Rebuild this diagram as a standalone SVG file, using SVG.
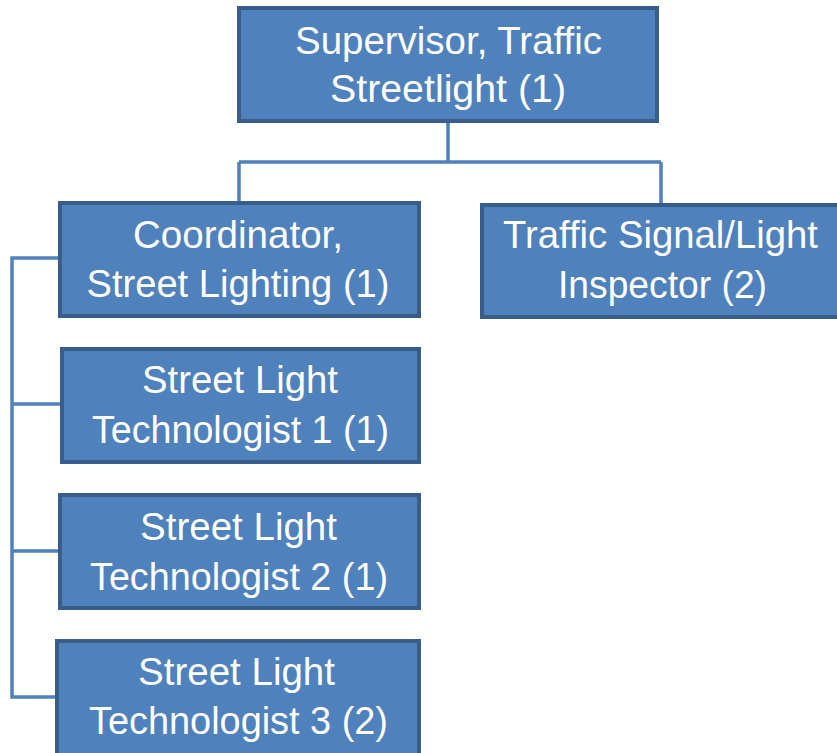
<svg xmlns="http://www.w3.org/2000/svg" width="837" height="753" viewBox="0 0 837 753">
<style>
.box{fill:#4F81BD;stroke:#385D8A;stroke-width:4}
.lbl{font-family:"Liberation Sans",Arial,sans-serif;font-size:39px;fill:#FFFFFF;text-anchor:middle}
.conn{fill:none;stroke:#4F81BD;stroke-width:3.5}
</style>
<rect width="837" height="753" fill="#FFFFFF"/>
<g id="connectors">
<path class="conn" d="M448,121 V162 M239,162 H661 M239,162 V203 M661,162 V205"/>
<path class="conn" d="M59,258 H12 V697 H57 M12,404 H62 M12,551 H60"/>
</g>
<g id="supervisor">
<rect class="box" x="239" y="8" width="418" height="113"/>
<text class="lbl" x="448.5" y="54" textLength="307" lengthAdjust="spacingAndGlyphs">Supervisor, Traffic</text>
<text class="lbl" x="448" y="102" textLength="236" lengthAdjust="spacingAndGlyphs">Streetlight (1)</text>
</g>
<g id="coordinator">
<rect class="box" x="60" y="203" width="359" height="113"/>
<text class="lbl" x="238" y="248" textLength="210" lengthAdjust="spacingAndGlyphs">Coordinator,</text>
<text class="lbl" x="238" y="297" textLength="303" lengthAdjust="spacingAndGlyphs">Street Lighting (1)</text>
</g>
<g id="inspector">
<rect class="box" x="482" y="205" width="360" height="112"/>
<text class="lbl" x="660.5" y="248" textLength="315" lengthAdjust="spacingAndGlyphs">Traffic Signal/Light</text>
<text class="lbl" x="662.5" y="298" textLength="209" lengthAdjust="spacingAndGlyphs">Inspector (2)</text>
</g>
<g id="tech1">
<rect class="box" x="62" y="349" width="357" height="113"/>
<text class="lbl" x="240" y="393" textLength="196" lengthAdjust="spacingAndGlyphs">Street Light</text>
<text class="lbl" x="240.5" y="443" textLength="297" lengthAdjust="spacingAndGlyphs">Technologist 1 (1)</text>
</g>
<g id="tech2">
<rect class="box" x="60" y="495" width="359" height="113"/>
<text class="lbl" x="238.5" y="540" textLength="197" lengthAdjust="spacingAndGlyphs">Street Light</text>
<text class="lbl" x="239" y="590" textLength="298" lengthAdjust="spacingAndGlyphs">Technologist 2 (1)</text>
</g>
<g id="tech3">
<rect class="box" x="57" y="641" width="362" height="120"/>
<text class="lbl" x="236.5" y="685" textLength="197" lengthAdjust="spacingAndGlyphs">Street Light</text>
<text class="lbl" x="238.5" y="734" textLength="299" lengthAdjust="spacingAndGlyphs">Technologist 3 (2)</text>
</g>
</svg>
